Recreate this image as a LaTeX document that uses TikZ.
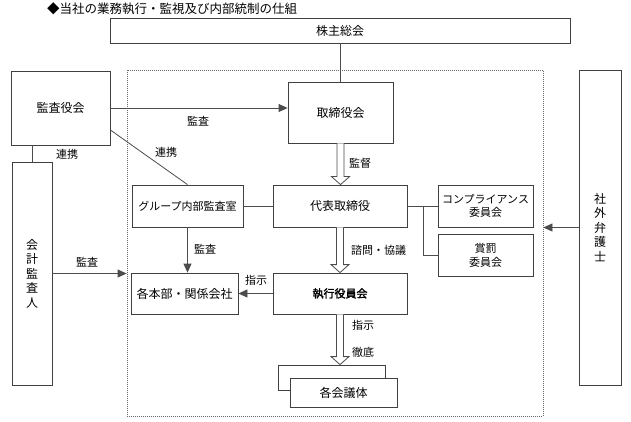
\documentclass[tikz,border=0pt]{standalone}
\usepackage{fontspec}
\setmainfont{Noto Sans CJK JP}[AutoFakeBold=2]
\usetikzlibrary{calc,arrows.meta}
\tikzset{
  box/.style={draw=black!75, line width=0.8pt, fill=white, inner sep=0pt, align=center,
    font=\fontsize{12}{14}\selectfont},
  lbl/.style={inner sep=0pt, font=\fontsize{11}{13}\selectfont},
  conn/.style={draw=black!70, line width=0.8pt},
  arr/.style={conn, -{Triangle[length=9pt,width=8pt]}},
  hollow/.style={draw=black!70, line width=0.8pt, fill=white},
  frm/.style={draw=black!60, line width=0.8pt, dash pattern=on 1pt off 1pt, inner sep=0pt}
}
\newcommand{\hollowarr}[2]{%
  \draw[hollow] let \p1=(#1), \p2=(#2) in
    (\x1-3.5pt,\y1) -- (\x1-3.5pt,\y2+8pt) -- (\x1-9pt,\y2+8pt) -- (\x1,\y2)
    -- (\x1+9pt,\y2+8pt) -- (\x1+3.5pt,\y2+8pt) -- (\x1+3.5pt,\y1);}
\begin{document}
\begin{tikzpicture}[x=1pt,y=-1pt]
\useasboundingbox (0,0) rectangle (631,422);
% title
\node[lbl, anchor=west, font=\fontsize{12.5}{14}\selectfont] (title) at (47,9) {◆当社の業務執行・監視及び内部統制の仕組};
% frame
\node[frm, minimum width=416, minimum height=346] (frame) at (335,243) {};
% boxes
\node[box, minimum width=460, minimum height=25] (kabu) at (340,30.5) {株主総会};
\node[box, minimum width=105, minimum height=61] (tori) at (340.5,112.5) {取締役会};
\node[box, minimum width=99, minimum height=74] (kansa) at (60.5,108) {監査役会};
\node[box, minimum width=40, minimum height=223, font=\fontsize{12}{14.5}\selectfont] (kaikei) at (32,273.5) {会\\計\\監\\査\\人};
\node[box, minimum width=111, minimum height=42, font=\fontsize{11}{13}\selectfont] (group) at (187.5,206) {グループ内部監査室};
\node[box, minimum width=134, minimum height=42] (daihyo) at (340,206) {代表取締役};
\node[box, minimum width=95, minimum height=42, font=\fontsize{11}{13}\selectfont] (comp) at (485.5,206) {コンプライアンス\\委員会};
\node[box, minimum width=95, minimum height=42, font=\fontsize{11}{14}\selectfont] (shob) at (485.5,255) {賞罰\\委員会};
\node[box, minimum width=42, minimum height=315, font=\fontsize{12}{14.5}\selectfont] (shagai) at (600,227.5) {社\\外\\弁\\護\\士};
\node[box, minimum width=134, minimum height=41, font=\fontsize{11}{13}\selectfont\bfseries] (shikko) at (340,293.5) {執行役員会};
\node[box, minimum width=107, minimum height=41] (honbu) at (184.5,293.5) {各本部・関係会社};
\node[box, minimum width=107, minimum height=25] (back) at (331.5,377.5) {};
\node[box, minimum width=107, minimum height=29] (front) at (343.5,392.5) {各会議体};
% connectors
\draw[conn] (kabu.south -| tori.north) -- (tori.north);
\draw[arr] (kansa.east) -- (kansa.east -| tori.west);
\draw[conn] ($(kansa.east)+(0,22)$) -- (group.north);
\draw[conn] (kaikei.north) -- (kaikei.north |- kansa.south);
\draw[arr] (kaikei.east) -- (kaikei.east -| frame.west);
\draw[arr] (shagai.west) -- (shagai.west -| frame.east);
\draw[conn] (group.east) -- (daihyo.west);
\draw[conn] (daihyo.east) -- (comp.west);
\coordinate (br) at (423,206);
\draw[conn] (br) |- (shob.west);
\draw[arr] (group.south) -- (group.south |- honbu.north);
\draw[arr] (shikko.west) -- (honbu.east);
\hollowarr{tori.south}{daihyo.north}
\hollowarr{daihyo.south}{shikko.north}
\hollowarr{shikko.south}{shikko.south |- back.north}
% labels
\node[lbl] (l1) at (198,121) {監査};
\node[lbl] (l2) at (166,152) {連携};
\node[lbl] (l3) at (67,154) {連携};
\node[lbl] (l4) at (87,262) {監査};
\node[lbl] (l5) at (360,163) {監督};
\node[lbl] (l6) at (378.5,250) {諮問・協議};
\node[lbl] (l7) at (205,249) {監査};
\node[lbl] (l8) at (256,280) {指示};
\node[lbl] (l9) at (363,325) {指示};
\node[lbl] (l10) at (363,352) {徹底};
\end{tikzpicture}
\end{document}
